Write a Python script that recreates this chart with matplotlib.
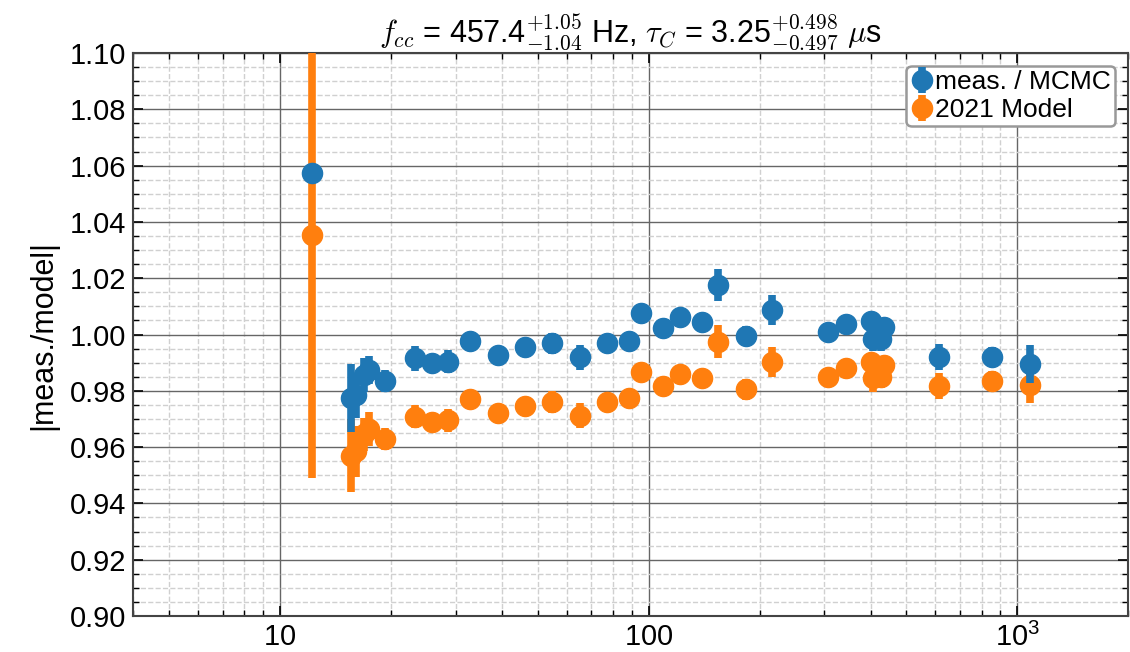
import matplotlib
matplotlib.use("Agg")
import matplotlib.pyplot as plt
from matplotlib.ticker import MultipleLocator, LogLocator
import numpy as np

plt.rcParams['font.family'] = ['Liberation Sans', 'DejaVu Sans']
plt.rcParams['mathtext.fontset'] = 'cm'
plt.rcParams['axes.formatter.min_exponent'] = 3

freq = [12.2, 15.6, 16.1, 16.9, 17.5, 19.3, 23.3, 25.8, 28.6, 32.7, 39.0, 46.3,
        54.9, 65.3, 77.4, 88.7, 95.3, 109.3, 121.7, 139.8, 153.9, 183.6, 216.8,
        306.6, 342.3, 402.0, 434.0, 406.0, 428.0, 612.4, 854.2, 1084.0]
meas = [1.0574, 0.9775, 0.9785, 0.9855, 0.9873, 0.9834, 0.9915, 0.9898, 0.9903,
        0.9978, 0.9927, 0.9957, 0.9969, 0.9919, 0.9969, 0.9978, 1.0075, 1.0022,
        1.0063, 1.0046, 1.0176, 0.9995, 1.0087, 1.0010, 1.0037, 1.0049, 1.0028,
        0.9983, 0.9983, 0.9921, 0.9919, 0.9895]
meas_err = [0.003, 0.012, 0.008, 0.006, 0.005, 0.004, 0.0044, 0.002, 0.0041,
            0.002, 0.002, 0.002, 0.0038, 0.0044, 0.002, 0.002, 0.002, 0.002,
            0.002, 0.002, 0.0057, 0.0036, 0.0053, 0.002, 0.002, 0.002, 0.002,
            0.004, 0.004, 0.0047, 0.0036, 0.0067]
model = [1.0353, 0.9570, 0.9585, 0.9645, 0.9665, 0.9628, 0.9708, 0.9690, 0.9696,
         0.9770, 0.9720, 0.9746, 0.9761, 0.9711, 0.9759, 0.9773, 0.9868, 0.9817,
         0.9860, 0.9844, 0.9974, 0.9805, 0.9903, 0.9850, 0.9880, 0.9903, 0.9892,
         0.9844, 0.9850, 0.9817, 0.9836, 0.9821]
model_err = [0.0863, 0.013, 0.009, 0.006, 0.006, 0.004, 0.0040, 0.002, 0.0041,
             0.002, 0.002, 0.002, 0.0039, 0.0044, 0.002, 0.002, 0.002, 0.002,
             0.002, 0.002, 0.0059, 0.0038, 0.0053, 0.002, 0.002, 0.002, 0.002,
             0.005, 0.004, 0.0047, 0.0036, 0.0065]

fig = plt.figure(figsize=(11.3, 6.52), dpi=100)
ax = fig.add_axes([0.1177, 0.0552, 0.8808, 0.8635])

kw = dict(fmt='o', markersize=14.5, elinewidth=5.5, capsize=0, linestyle='none')
h2 = ax.errorbar(freq, model, yerr=model_err, color='#ff7f0e', zorder=3, **kw)
h1 = ax.errorbar(freq, meas, yerr=meas_err, color='#1f77b4', zorder=4, **kw)

ax.set_xscale('log')
ax.set_xlim(4, 2000)
ax.set_ylim(0.90, 1.10)
ax.yaxis.set_major_locator(MultipleLocator(0.02))
ax.yaxis.set_minor_locator(MultipleLocator(0.005))
ax.yaxis.set_major_formatter(matplotlib.ticker.FormatStrFormatter('%.2f'))
ax.xaxis.set_minor_locator(LogLocator(base=10, subs=np.arange(2, 10)))
ax.xaxis.set_minor_formatter(matplotlib.ticker.NullFormatter())

ax.tick_params(which='both', direction='in', top=True, right=True, labelsize=21)
ax.tick_params(which='major', length=7, width=1.2, pad=5)
ax.tick_params(which='minor', length=4, width=1.0)

ax.grid(which='major', color='#666666', linestyle='-', linewidth=1.0)
ax.grid(which='minor', color='#d0d0d0', linestyle='--', linewidth=1.0)
ax.set_axisbelow(True)
for s in ax.spines.values():
    s.set_linewidth(1.5)
    s.set_color('#444444')

ax.set_ylabel('|meas./model|', fontsize=22, labelpad=8)
ax.set_title(r'$f_{cc}$ = 457.4$^{+1.05}_{-1.04}$ Hz, $\tau_C$ = 3.25$^{+0.498}_{-0.497}$ $\mu$s',
             fontsize=22, pad=5)

leg = ax.legend([h1, h2], ['meas. / MCMC', '2021 Model'], loc='upper right',
                fontsize=19, handlelength=0.9, handletextpad=0.05, borderpad=0.15,
                borderaxespad=0.5, labelspacing=0.15, fancybox=True, framealpha=1.0)
leg.get_frame().set_edgecolor('#999999')
leg.get_frame().set_linewidth(1.8)

fig.savefig('out.png', dpi=100)
